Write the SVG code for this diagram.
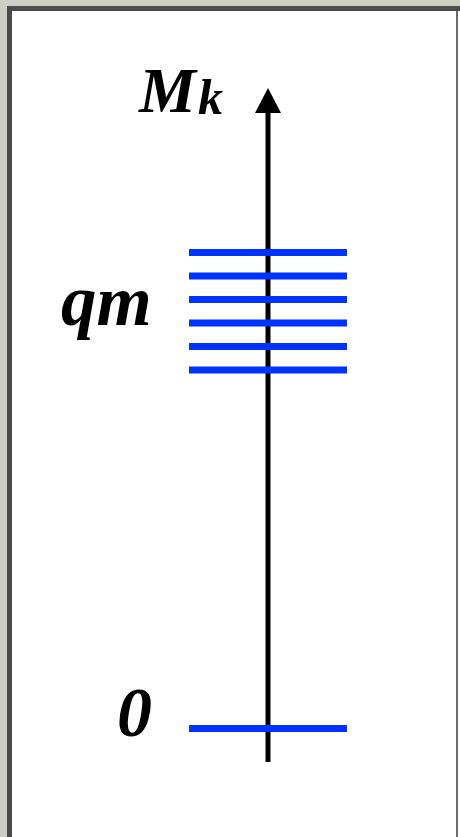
<svg xmlns="http://www.w3.org/2000/svg" width="460" height="837" viewBox="0 0 460 837">
<defs>
<style>
.lvl{stroke:#0033ff;stroke-width:7;fill:none}
.lbl{font-family:"Liberation Serif","Times New Roman",serif;font-style:italic;font-weight:bold;fill:#000}
</style>
</defs>
<rect x="0" y="0" width="460" height="837" fill="#cdcfc3"/>
<rect x="7" y="6" width="453" height="831" fill="#4a4a4a"/>
<rect x="12" y="11" width="444" height="826" fill="#ffffff"/>
<rect x="456" y="11" width="2" height="826" fill="#6a6a6a"/>
<rect x="458" y="11" width="2" height="826" fill="#ffffff"/>
<g id="axis">
<line x1="268" y1="762" x2="268" y2="112" stroke="#000" stroke-width="5"/>
<polygon points="268,88 255,113 281,113" fill="#000"/>
</g>
<g id="levels">
<line class="lvl" x1="189" y1="252.5" x2="347" y2="252.5"/>
<line class="lvl" x1="189" y1="276" x2="347" y2="276"/>
<line class="lvl" x1="189" y1="299.5" x2="347" y2="299.5"/>
<line class="lvl" x1="189" y1="323" x2="347" y2="323"/>
<line class="lvl" x1="189" y1="346.5" x2="347" y2="346.5"/>
<line class="lvl" x1="189" y1="370" x2="347" y2="370"/>
<line class="lvl" x1="189" y1="728.5" x2="347" y2="728.5"/>
</g>
<g id="labels">
<text class="lbl" x="139" y="112" font-size="64">M<tspan font-size="50" dx="2" dy="2">k</tspan></text>
<text class="lbl" x="61" y="325" font-size="71">qm</text>
<text class="lbl" x="117" y="736" font-size="70">0</text>
</g>
</svg>
